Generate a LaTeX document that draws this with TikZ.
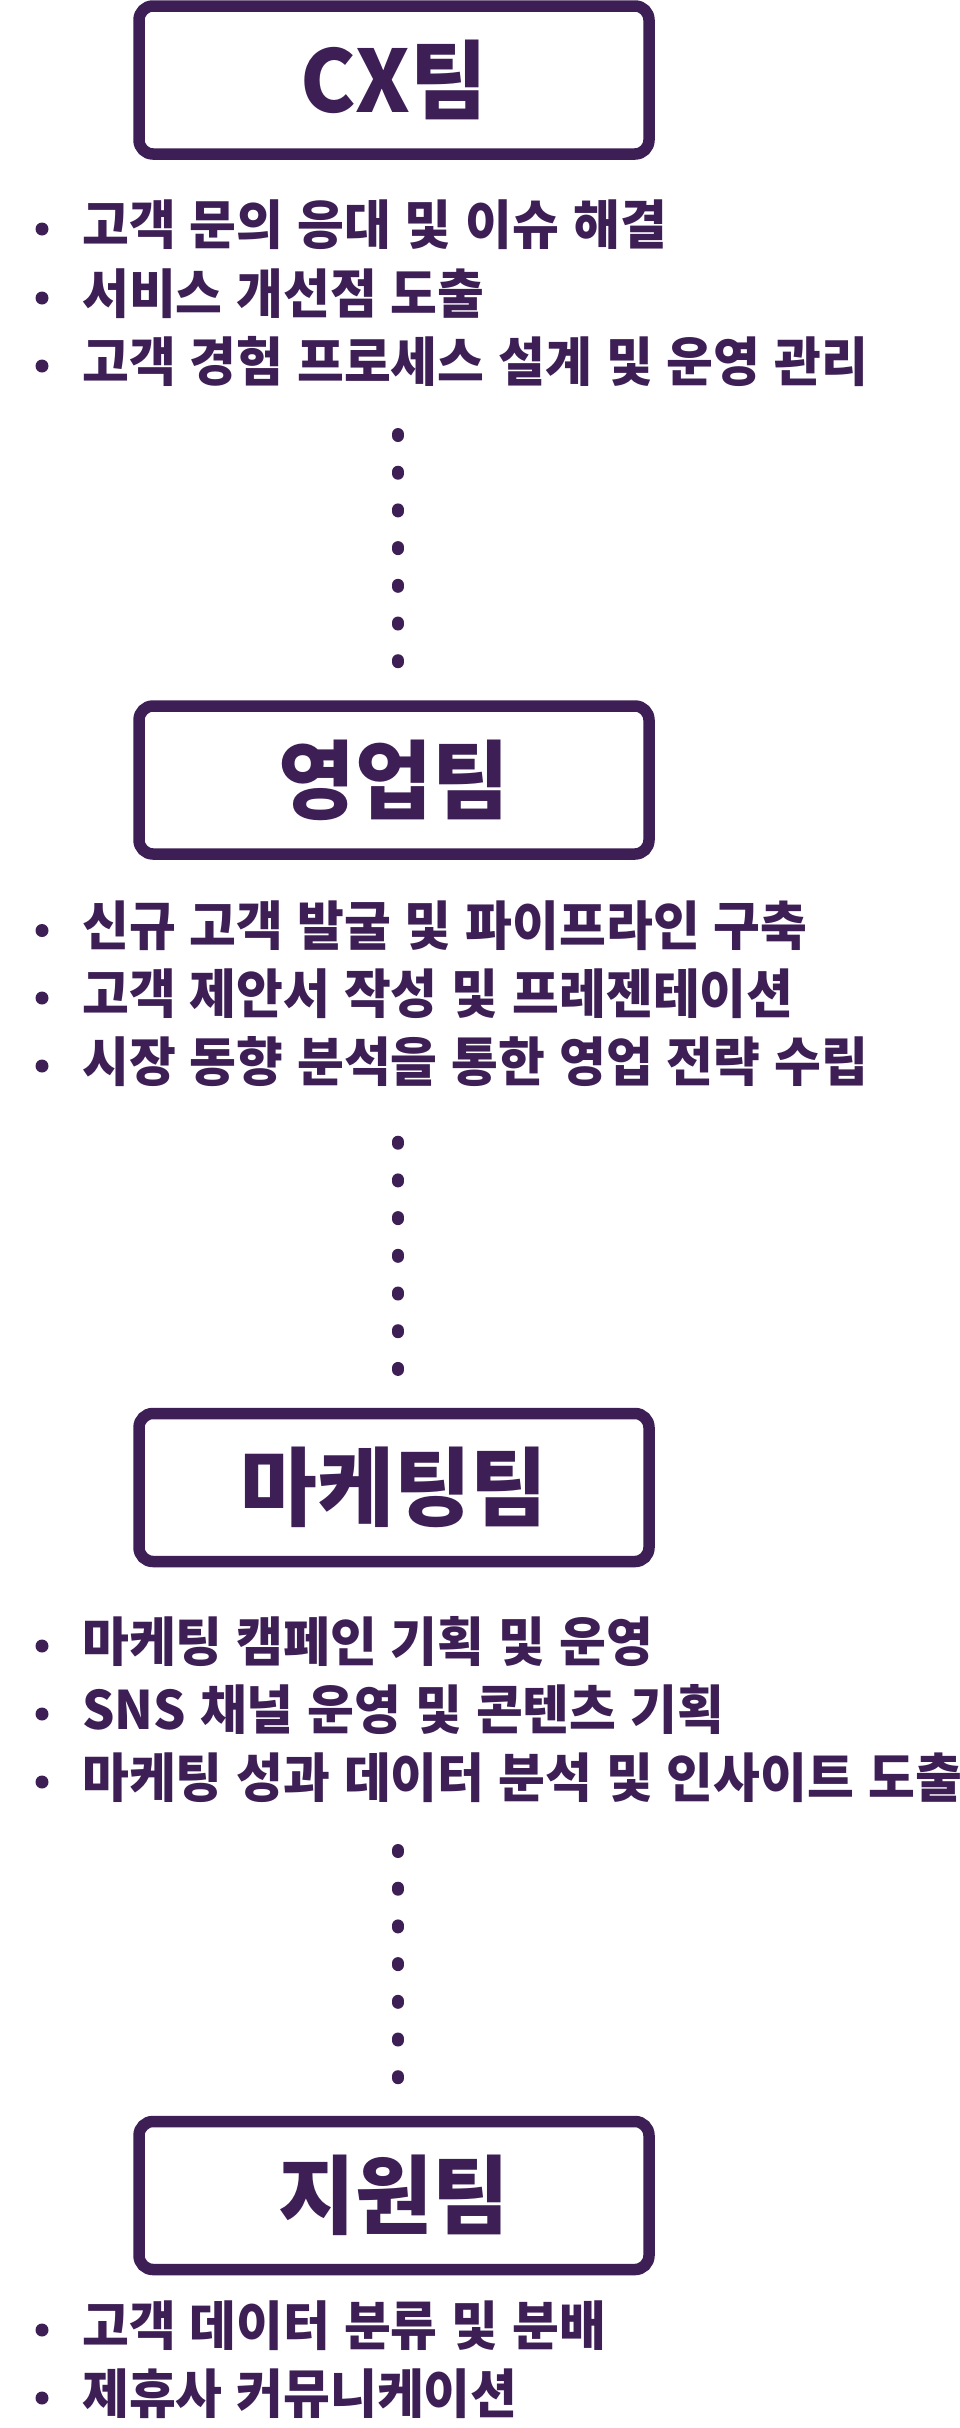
\documentclass[tikz,border=0pt]{standalone}
\usepackage{fontspec}
\newfontfamily\krtitle{Noto Sans CJK KR}[FakeStretch=0.97]
\newfontfamily\kritem{Noto Sans CJK KR}[FakeStretch=0.96, WordSpace=1.2]
\definecolor{ink}{RGB}{61,31,85}
\tikzset{
  teambox/.style={draw=ink, line width=11.5pt, rounded corners=14pt, fill=white,
    minimum width=510pt, minimum height=148pt, inner sep=0pt, text=ink,
    text height=70pt, text depth=6pt,
    font=\krtitle\bfseries\fontsize{86pt}{86pt}\selectfont},
  item/.style={anchor=base west, inner sep=0pt, text=ink,
    font=\kritem\bfseries\fontsize{53pt}{53pt}\selectfont},
  bulletdot/.style={circle, fill=ink, minimum size=13pt, inner sep=0pt},
  dots/.style={draw=ink, line width=12pt, line cap=round, dash pattern=on 2pt off 35.7pt}
}
\begin{document}
\begin{tikzpicture}[x=1pt, y=-1pt]
\useasboundingbox (0,0) rectangle (960,2428);
\fill[white] (0,0) rectangle (960,2428);

% boxes
\node[teambox] (cx) at (394,80) {CX팀};
\node[teambox] (sales) at (394,780) {영업팀};
\node[teambox] (mkt) at (394,1487.5) {마케팅팀};
\node[teambox] (sup) at (394,2195.5) {지원팀};

% CX items
\node[bulletdot] (cxb1) at (42,229) {};
\node[item] (cx1) at (82,244) {고객 문의 응대 및 이슈 해결};
\node[bulletdot] (cxb2) at (42,298) {};
\node[item] (cx2) at (82,313) {서비스 개선점 도출};
\node[bulletdot] (cxb3) at (42,366) {};
\node[item] (cx3) at (82,381) {고객 경험 프로세스 설계 및 운영 관리};

% sales items
\node[bulletdot] (sb1) at (42,930.5) {};
\node[item] (s1) at (82,945.5) {신규 고객 발굴 및 파이프라인 구축};
\node[bulletdot] (sb2) at (42,998) {};
\node[item] (s2) at (82,1013) {고객 제안서 작성 및 프레젠테이션};
\node[bulletdot] (sb3) at (42,1066) {};
\node[item] (s3) at (82,1081) {시장 동향 분석을 통한 영업 전략 수립};

% marketing items
\node[bulletdot] (mb1) at (42,1646) {};
\node[item] (m1) at (82,1661) {마케팅 캠페인 기획 및 운영};
\node[bulletdot] (mb2) at (42,1714) {};
\node[item] (m2) at (82,1729) {SNS 채널 운영 및 콘텐츠 기획};
\node[bulletdot] (mb3) at (42,1782) {};
\node[item] (m3) at (82,1797) {마케팅 성과 데이터 분석 및 인사이트 도출};

% support items
\node[bulletdot] (pb1) at (42,2330) {};
\node[item] (p1) at (82,2345) {고객 데이터 분류 및 분배};
\node[bulletdot] (pb2) at (42,2398) {};
\node[item] (p2) at (82,2413) {제휴사 커뮤니케이션};

% dotted connectors
\coordinate (d1a) at (398,434);
\coordinate (d1b) at (398,663);
\coordinate (d2a) at (398,1141.7);
\coordinate (d2b) at (398,1370.7);
\coordinate (d3a) at (398,1850);
\coordinate (d3b) at (398,2079);
\draw[dots] (d1a) -- (d1b);
\draw[dots] (d2a) -- (d2b);
\draw[dots] (d3a) -- (d3b);
\end{tikzpicture}
\end{document}
